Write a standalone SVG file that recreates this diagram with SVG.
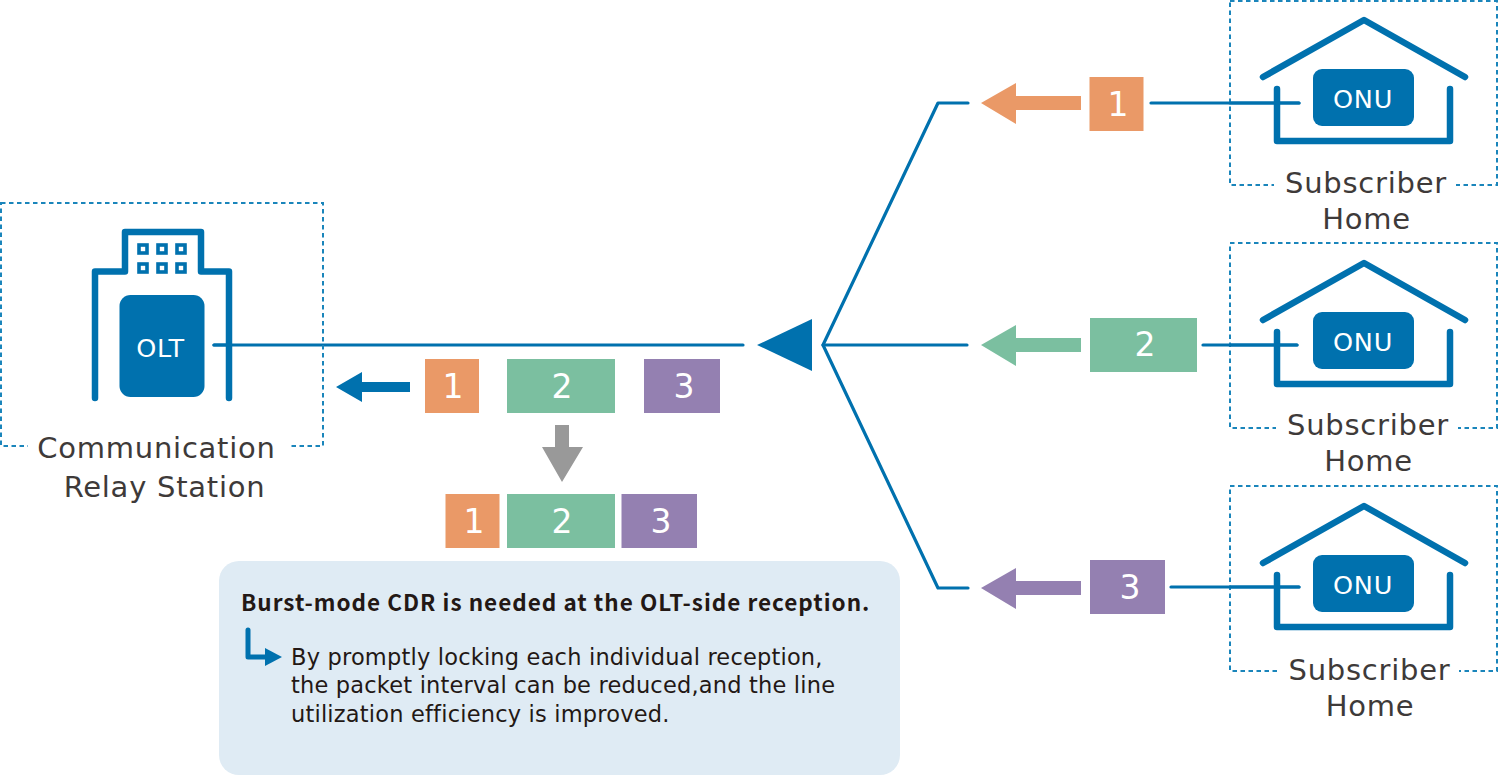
<svg xmlns="http://www.w3.org/2000/svg" width="1498" height="776" viewBox="0 0 1498 776">
<style>
text{font-family:"DejaVu Sans",Verdana,sans-serif}
.dash{fill:none;stroke:#1a85bb;stroke-width:2;stroke-dasharray:4.5 3.5}
.ln{fill:none;stroke:#0071ae;stroke-width:3.2;stroke-linecap:round;stroke-linejoin:round}
.ic{fill:none;stroke:#0071ae;stroke-width:6.5;stroke-linecap:round;stroke-linejoin:round}
.win{fill:#fff;stroke:#0071ae;stroke-width:3.6}
.blue{fill:#0071ae}
.o{fill:#ea9967}.g{fill:#7bbfa0}.p{fill:#9480b1}
.n{fill:#fff;font-size:33px;text-anchor:middle}
.eq{fill:#fff;font-size:25.500px;text-anchor:middle;letter-spacing:.8px}
.lab{fill:#3e3a39;font-size:29px;text-anchor:middle;letter-spacing:.75px}
.body{fill:#231815;font-size:22.5px;letter-spacing:.19px}
</style>
<defs>
<g id="house">
<path class="ic" d="M1263 77L1364 20L1465 77"/>
<path class="ic" d="M1277 89V141H1450V89"/>
<rect class="blue" x="1313" y="69" width="101" height="57" rx="9"/>
<text class="eq" x="1363" y="108">ONU</text>
</g>
</defs>
<g id="connectors">
<path class="ln" d="M214 345H743"/>
<path class="ln" d="M968 103H938L823 345L938 588H968"/>
<path class="ln" d="M823 345H967"/>
<path class="ln" d="M1151 103H1299"/>
<path class="ln" d="M1203 345H1297"/>
<path class="ln" d="M1171 587H1299"/>
<path class="blue" d="M757 345L812 319V371Z"/>
<path class="o" d="M981 103L1016 83V96H1081V110H1016V124Z"/>
<path class="g" d="M981 345L1016 325V338H1081V352H1016V366Z"/>
<path class="p" d="M981 588L1016 568V581H1081V595H1016V609Z"/>
<path class="blue" d="M336 387L362 372V382H410V392H362V402Z"/>
<path fill="#999" d="M555 425H569V447H583L562 482L542 447H555Z"/>
</g>
<g id="station">
<rect class="dash" x="1" y="203" width="322" height="243"/>
<rect x="28" y="430" width="260" height="32" fill="#fff"/>
<path class="ic" d="M95 398V271.500H125V232H201V271.500H229V398"/>
<rect class="win" x="139" y="245" width="8" height="8"/><rect class="win" x="158" y="245" width="8" height="8"/><rect class="win" x="177" y="245" width="8" height="8"/>
<rect class="win" x="139" y="264" width="8" height="8"/><rect class="win" x="158" y="264" width="8" height="8"/><rect class="win" x="177" y="264" width="8" height="8"/>
<rect class="blue" x="119.500" y="295" width="85" height="102" rx="11"/>
<text class="eq" x="160.500" y="357">OLT</text>
<path class="ln" d="M214 345H229"/>
<text class="lab" x="156.500" y="458">Communication</text>
<text class="lab" x="164.500" y="497">Relay Station</text>
</g>
<g id="home1">
<rect class="dash" x="1230" y="1" width="267" height="184"/>
<rect x="1274" y="170" width="182" height="30" fill="#fff"/>
<use href="#house"/>
<path class="ln" d="M1230 103H1299"/>
<text class="lab" x="1366" y="193">Subscriber</text>
<text class="lab" x="1366.500" y="229">Home</text>
</g>
<g id="home2">
<rect class="dash" x="1230" y="243" width="267" height="185"/>
<rect x="1276" y="413" width="182" height="30" fill="#fff"/>
<use href="#house" y="243"/>
<path class="ln" d="M1230 345H1297"/>
<text class="lab" x="1368" y="435">Subscriber</text>
<text class="lab" x="1368.500" y="471">Home</text>
</g>
<g id="home3">
<rect class="dash" x="1230" y="486" width="267" height="185"/>
<rect x="1277" y="656" width="182" height="30" fill="#fff"/>
<use href="#house" y="486"/>
<path class="ln" d="M1230 587H1299"/>
<text class="lab" x="1369.500" y="680">Subscriber</text>
<text class="lab" x="1370" y="716">Home</text>
</g>
<g id="packets-top">
<rect class="o" x="1089.500" y="77" width="54" height="54"/><text class="n" x="1118" y="116">1</text>
<rect class="g" x="1090" y="318" width="107" height="54"/><text class="n" x="1145" y="356">2</text>
<rect class="p" x="1090" y="560" width="75" height="54"/><text class="n" x="1130" y="599">3</text>
</g>
<g id="packets-mid">
<rect class="o" x="425" y="359" width="54" height="54"/><text class="n" x="453" y="398">1</text>
<rect class="g" x="507" y="359" width="108" height="54"/><text class="n" x="562" y="398">2</text>
<rect class="p" x="644" y="359" width="76" height="54"/><text class="n" x="684" y="398">3</text>
</g>
<g id="packets-bottom">
<rect class="o" x="445.500" y="494" width="54" height="54"/><text class="n" x="474" y="533">1</text>
<rect class="g" x="507" y="494" width="108" height="54"/><text class="n" x="562" y="533">2</text>
<rect class="p" x="621.500" y="494" width="75.500" height="54"/><text class="n" x="661" y="533">3</text>
</g>
<g id="note">
<rect x="219" y="561" width="681" height="214" rx="20" fill="#dfebf4"/>
<text x="241" y="611" style="font-family:'Noto Sans CJK JP','Noto Sans',sans-serif;font-weight:700;font-size:22.500px;letter-spacing:1px" fill="#231815">Burst-mode CDR is needed at the OLT-side reception.</text>
<path fill="none" stroke="#0071ae" stroke-width="5" stroke-linecap="round" stroke-linejoin="round" d="M248 630V657H266"/>
<path class="blue" d="M265 648L282 657L265 666Z"/>
<text class="body" x="291" y="665">By promptly locking each individual reception,</text>
<text class="body" x="291" y="693">the packet interval can be reduced,and the line</text>
<text class="body" x="291" y="722">utilization efficiency is improved.</text>
</g>
</svg>
